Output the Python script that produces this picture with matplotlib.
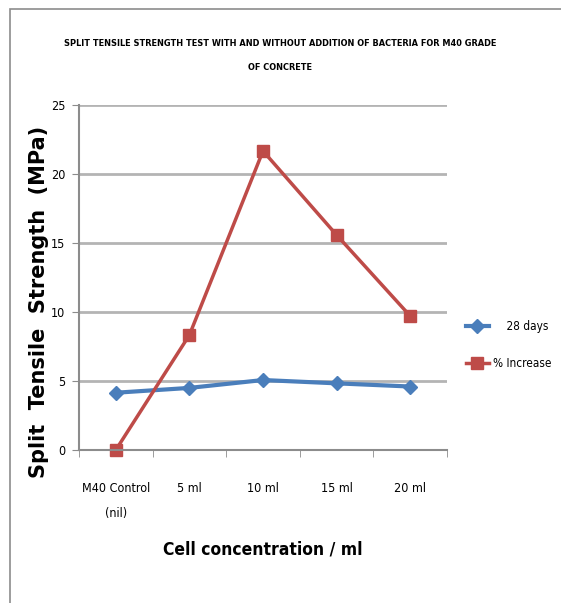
import matplotlib.pyplot as plt
import numpy as np
from matplotlib.patches import Rectangle

categories = ["M40 Control\n(nil)", "5 ml", "10 ml", "15 ml", "20 ml"]
strength_28_days = [4.15, 4.5, 5.07, 4.83, 4.6]
percent_increase = [0, 8.33, 21.67, 15.58, 9.71]
y_ticks = [0, 5, 10, 15, 20, 25]

narrow = {"family": "DejaVu Sans", "stretch": "condensed"}

fig = plt.figure(figsize=(5.61, 6.03), dpi=100)
fig.patches.append(Rectangle((10 / 561, -0.01), 1.0, 1 - 9 / 603 + 0.01,
                             transform=fig.transFigure, fill=False,
                             edgecolor="#8c8c8c", linewidth=1.2))

ax = fig.add_axes([79 / 561, 1 - 450 / 603, (447 - 79) / 561, (450 - 105) / 603])
x = np.arange(len(categories))

ax.plot(x, strength_28_days, color="#4a7ebb", linewidth=3, marker="D",
        markersize=7, label="    28 days")
ax.plot(x, percent_increase, color="#be4b48", linewidth=2.5, marker="s",
        markersize=9, label="% Increase", clip_on=False)

ax.set_xlim(-0.5, len(categories) - 0.5)
ax.set_ylim(0, 25)
ax.set_yticks(y_ticks)
ax.set_yticklabels([str(t) for t in y_ticks], fontsize=9, **narrow)
ax.set_xticks(x)
ax.set_xticklabels(categories, fontsize=9, linespacing=2.2, **narrow)
ax.set_xticks(np.arange(len(categories) + 1) - 0.5, minor=True)
ax.tick_params(axis="x", which="major", length=0, pad=23)
ax.tick_params(axis="x", which="minor", length=5, color="#8c8c8c")
ax.tick_params(axis="y", length=5, color="#8c8c8c", pad=5)

ax.grid(axis="y", color="#b4b4b4", linewidth=2)
ax.set_axisbelow(True)
for side in ["top", "right"]:
    ax.spines[side].set_visible(False)
for side in ["left", "bottom"]:
    ax.spines[side].set_color("#8c8c8c")
    ax.spines[side].set_linewidth(1.5)

ax.set_ylabel("Split  Tensile  Strength  (MPa)", fontsize=15,
              fontweight="bold", family="DejaVu Sans")
ax.yaxis.set_label_coords(-0.082, 0.43)
ax.set_xlabel("Cell concentration / ml", fontsize=12.5, fontweight="bold",
              labelpad=15, **narrow)

fig.text(0.5, 1 - 43 / 603, "SPLIT TENSILE STRENGTH TEST WITH AND WITHOUT ADDITION OF BACTERIA FOR M40 GRADE",
         ha="center", va="center", fontsize=6.6, fontweight="bold", **narrow)
fig.text(0.5, 1 - 68 / 603, "OF CONCRETE", ha="center", va="center",
         fontsize=6.6, fontweight="bold", **narrow)

fig.legend(loc="center left", bbox_to_anchor=(455 / 561, 1 - 345 / 603),
           frameon=False, prop={"size": 8.5, **narrow},
           handlelength=2.0, labelspacing=2.0, handletextpad=0.3)

fig.savefig("out.png", dpi=100)
